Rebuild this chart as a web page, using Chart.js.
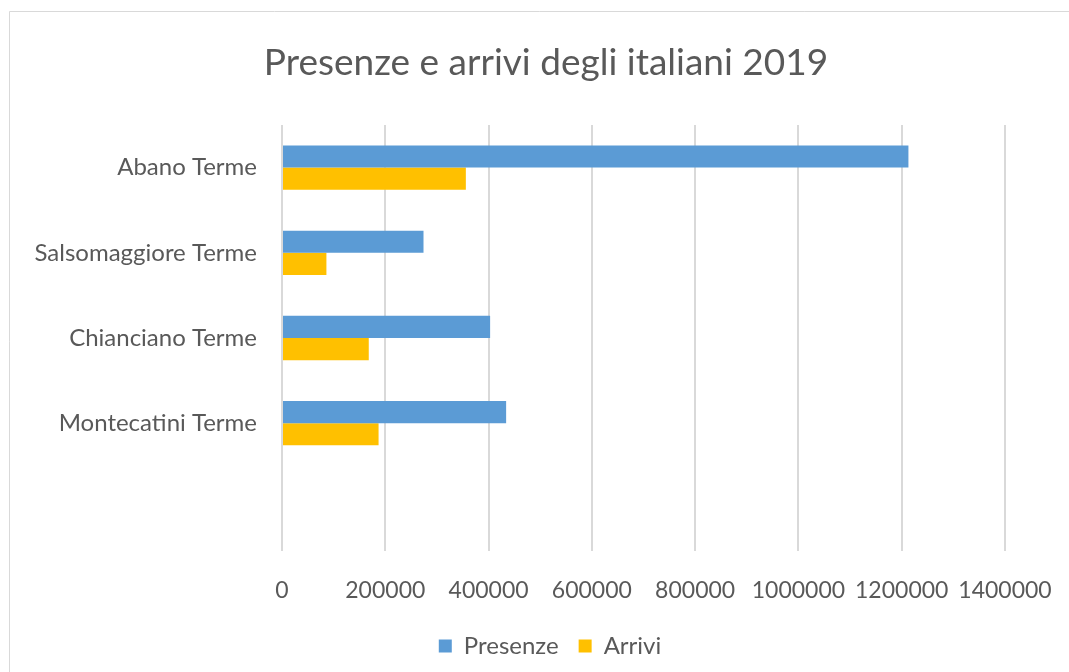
<!DOCTYPE html>
<html lang="it">
<head>
<meta charset="utf-8">
<title>Presenze e arrivi degli italiani 2019</title>
<script src="https://cdn.jsdelivr.net/npm/chart.js@4.4.1/dist/chart.umd.min.js"></script>
<style>
  html, body { margin: 0; padding: 0; background: #fff; }
  #wrap { position: relative; width: 1069px; height: 672px; }
</style>
</head>
<body>
<div id="wrap"><canvas id="chart" width="1069" height="672"></canvas></div>
<script>
const localita = ['Abano Terme', 'Salsomaggiore Terme', 'Chianciano Terme', 'Montecatini Terme', ''];
const presenze = [1213000, 274000, 403000, 434000, null];
const arrivi = [356000, 86000, 168000, 187000, null];
const tickValori = [0, 200000, 400000, 600000, 800000, 1000000, 1200000, 1400000];

const grigio = '#595959';
const font = 'Lato';

// cornice grigia in alto e a sinistra
const cornice = {
    id: 'cornice',
    beforeDraw(chart) {
        const ctx = chart.ctx;
        ctx.save();
        ctx.fillStyle = '#fff';
        ctx.fillRect(0, 0, chart.width, chart.height);
        ctx.strokeStyle = '#d9d9d9';
        ctx.lineWidth = 1;
        ctx.beginPath();
        ctx.moveTo(9.5, chart.height);
        ctx.lineTo(9.5, 11.5);
        ctx.lineTo(chart.width, 11.5);
        ctx.stroke();
        ctx.restore();
    }
};

// titolo e legenda centrati sul riquadro, non sull'area del grafico
const centratura = {
    id: 'centratura',
    afterLayout(chart) {
        chart.titleBlock.left = 23;
        chart.titleBlock.right = chart.width;
        chart.legend.left = 95;
        chart.legend.right = 1005;
    }
};

document.addEventListener("DOMContentLoaded", function() {
    const ctx = document.getElementById('chart');
    window.myBar = new Chart(ctx, {
        type: 'bar',
        data: {
            labels: localita,
            datasets: [
                {
                    label: 'Presenze',
                    data: presenze,
                    backgroundColor: '#5b9bd5',
                    borderWidth: 0,
                },
                {
                    label: 'Arrivi',
                    data: arrivi,
                    backgroundColor: '#ffc000',
                    borderWidth: 0,
                },
            ],
        },
        options: {
            indexAxis: 'y',
            responsive: false,
            animation: false,
            layout: { padding: { top: 0, left: 0, right: 64, bottom: 4 } },
            datasets: {
                bar: { categoryPercentage: 0.52, barPercentage: 1.0 }
            },
            scales: {
                x: {
                    min: 0,
                    max: 1400000,
                    afterBuildTicks: (scale) => {
                        scale.ticks = tickValori.map(v => ({ value: v }));
                    },
                    afterFit: (scale) => {
                        scale.height = 63;
                        scale.paddingLeft = 0;
                        scale.paddingRight = 0;
                    },
                    grid: { color: '#d9d9d9', lineWidth: 2, drawTicks: false },
                    border: { display: false },
                    ticks: {
                        padding: 26,
                        color: grigio,
                        font: { family: font, size: 23 },
                        maxRotation: 0,
                        autoSkip: false,
                        callback: (v) => String(v),
                    },
                },
                y: {
                    afterFit: (scale) => { scale.width = 282; },
                    grid: { display: false, drawTicks: false },
                    border: { display: false },
                    ticks: {
                        padding: 25,
                        color: grigio,
                        font: { family: font, size: 24 },
                        autoSkip: false,
                    },
                },
            },
            plugins: {
                title: {
                    display: true,
                    text: 'Presenze e arrivi degli italiani 2019',
                    color: grigio,
                    font: { family: font, size: 37, weight: 'normal', lineHeight: 1.2 },
                    padding: { top: 41, bottom: 39.6 },
                },
                legend: {
                    position: 'bottom',
                    labels: {
                        color: grigio,
                        font: { family: font, size: 24 },
                        boxWidth: 13,
                        boxHeight: 13,
                        padding: 20,
                    },
                },
                tooltip: { enabled: false },
            },
        },
        plugins: [cornice, centratura],
    });
});
</script>
</body>
</html>
